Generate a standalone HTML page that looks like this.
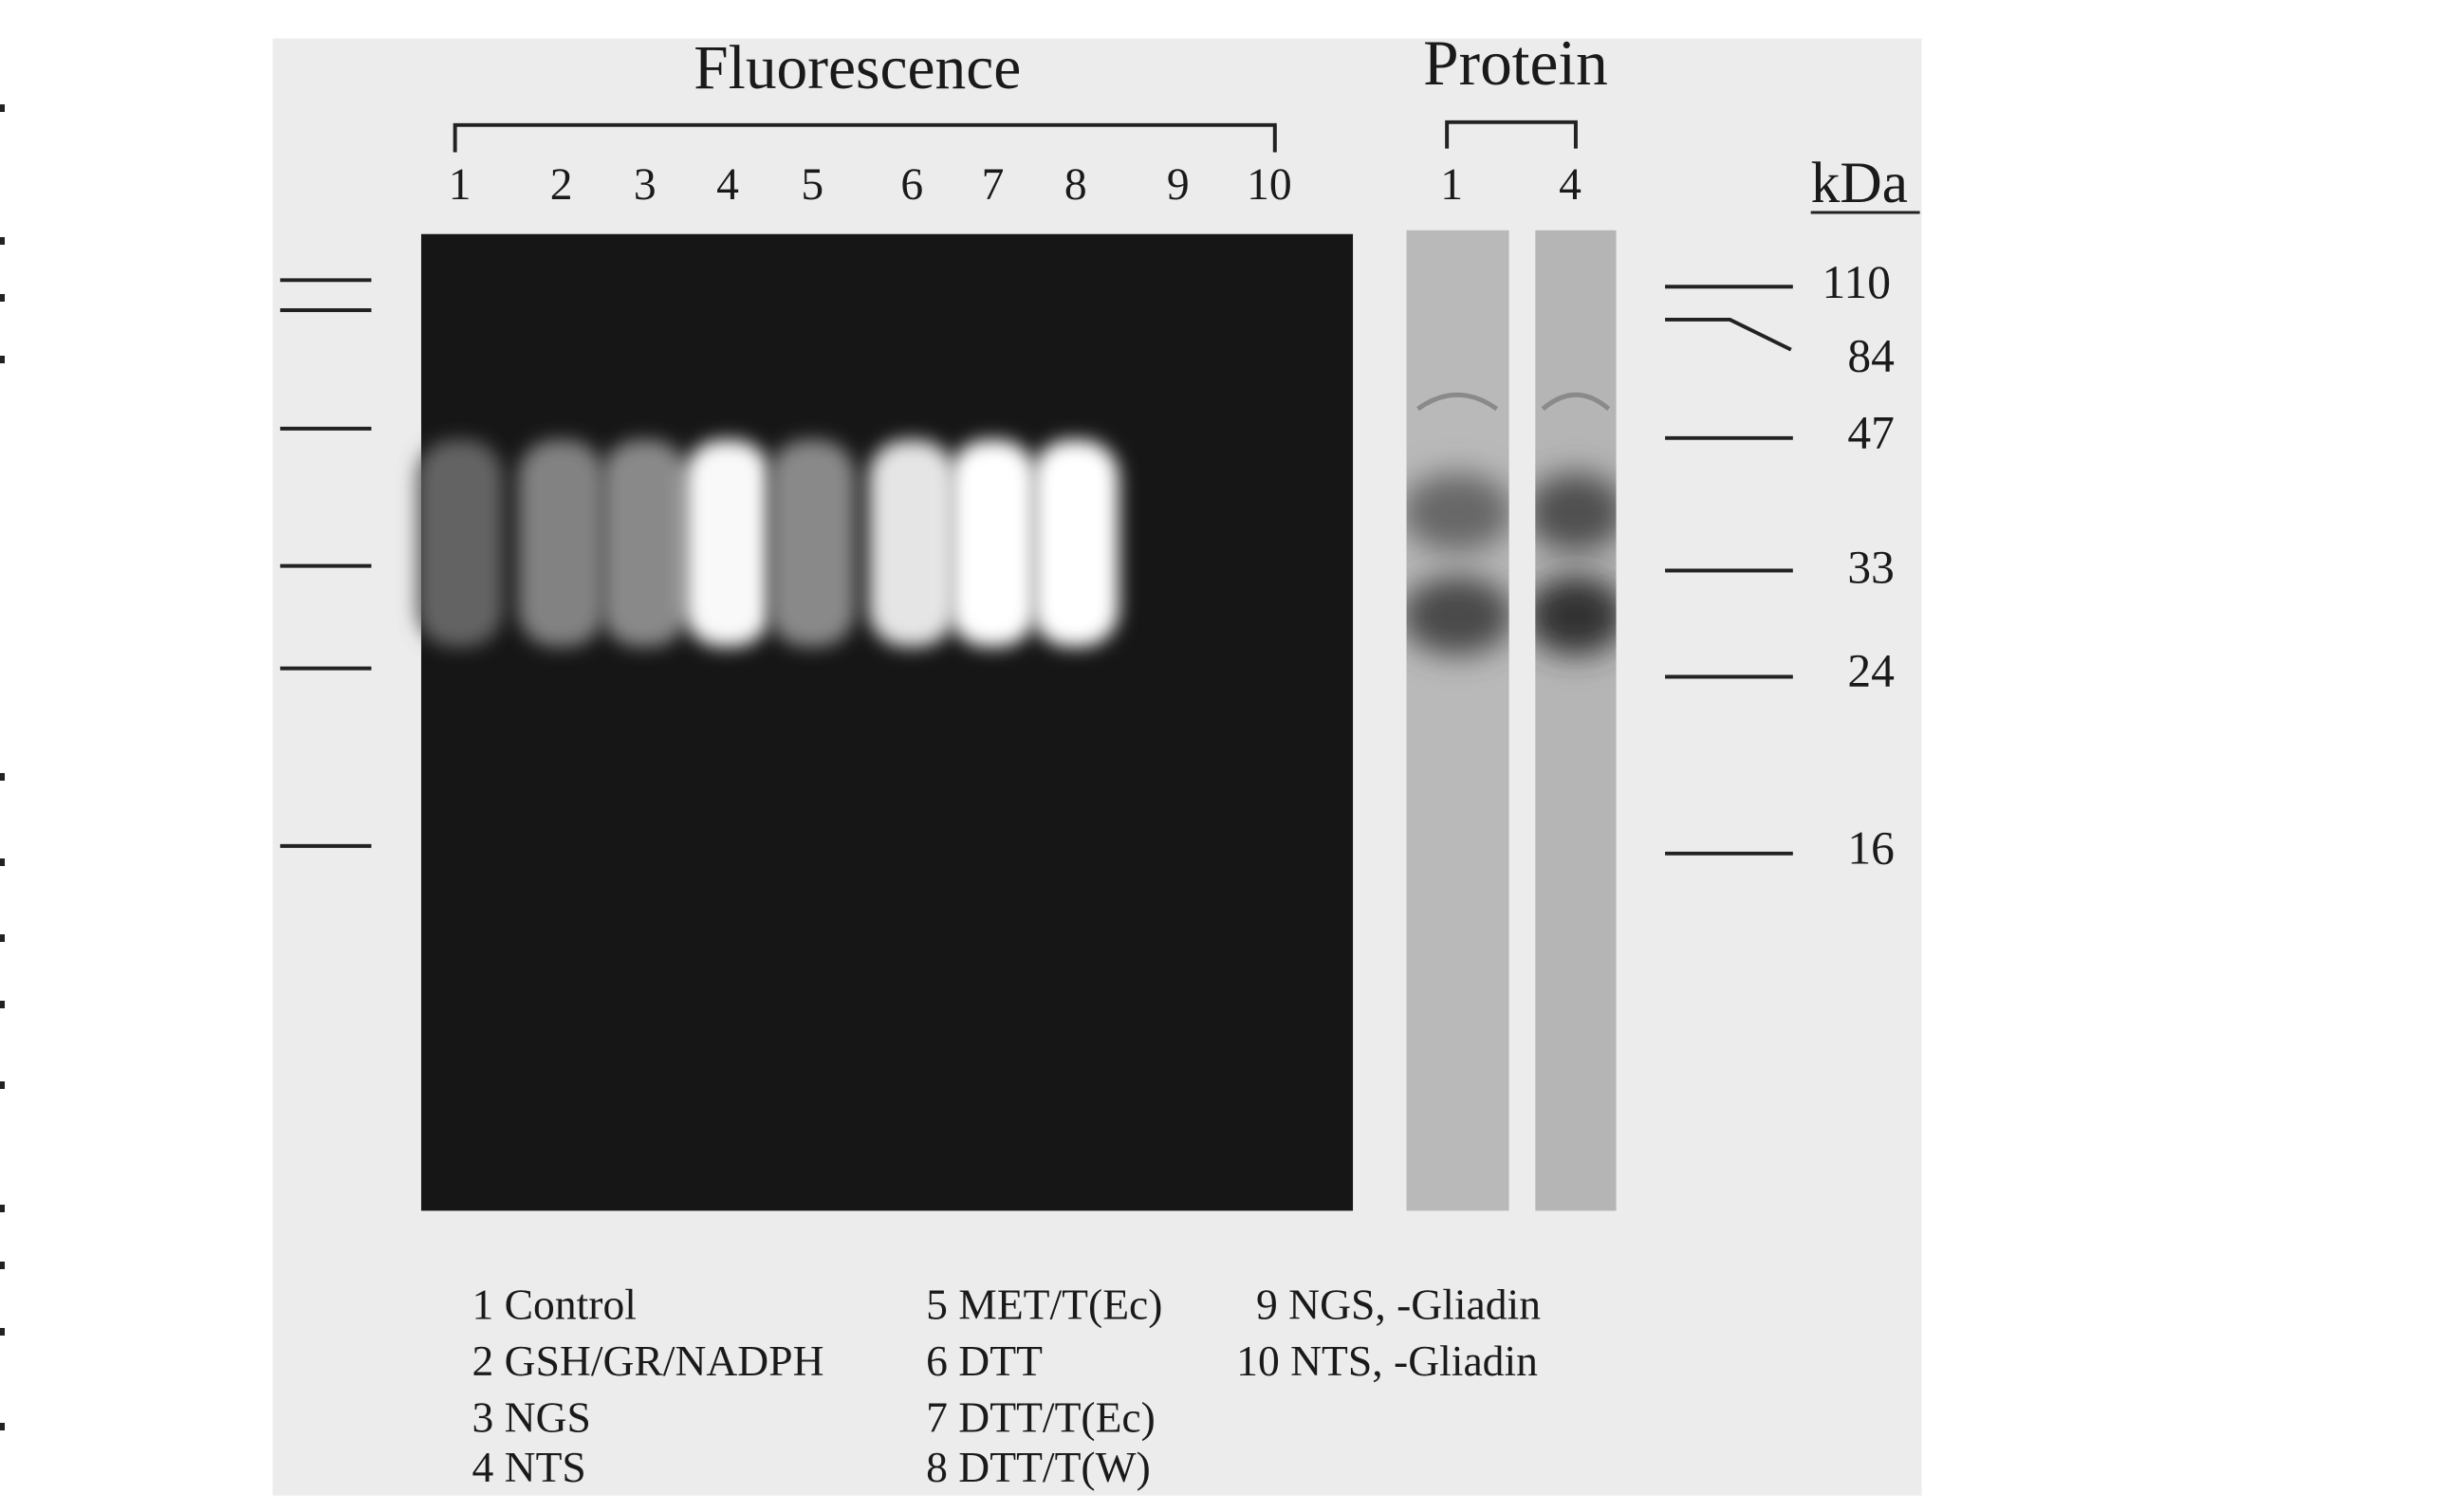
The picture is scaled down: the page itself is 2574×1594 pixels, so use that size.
<!DOCTYPE html>
<html><head><meta charset="utf-8"><style>
html,body{margin:0;padding:0;background:#fff;}
svg{display:block;}
text{font-family:"Liberation Serif",serif;fill:#1a1a1a;}
</style></head><body>
<svg id="fig" width="2574" height="1594" viewBox="0 0 2574 1594" xmlns="http://www.w3.org/2000/svg">
<defs>
<filter id="blurB" x="-50%" y="-50%" width="200%" height="200%"><feGaussianBlur stdDeviation="10"/></filter>
<filter id="blurP" x="-50%" y="-50%" width="200%" height="200%"><feGaussianBlur stdDeviation="16"/></filter>
<clipPath id="clipP1"><rect x="1496" y="245" width="109" height="1043"/></clipPath>
<clipPath id="clipP4"><rect x="1633" y="245" width="86" height="1043"/></clipPath>
</defs>
<g fill="#222">
<rect x="0" y="110" width="5" height="8"/><rect x="0" y="250" width="5" height="8"/><rect x="0" y="310" width="5" height="8"/><rect x="0" y="375" width="5" height="8"/><rect x="0" y="815" width="5" height="8"/><rect x="0" y="905" width="5" height="8"/><rect x="0" y="985" width="5" height="8"/><rect x="0" y="1055" width="5" height="8"/><rect x="0" y="1140" width="5" height="8"/><rect x="0" y="1270" width="5" height="8"/><rect x="0" y="1330" width="5" height="8"/><rect x="0" y="1400" width="5" height="8"/><rect x="0" y="1500" width="5" height="8"/>
</g>
<g transform="scale(0.991)">
<rect x="290" y="41" width="1754" height="1550" fill="#ececec"/>
<rect x="448" y="249" width="991" height="1039" fill="#161616"/>
<g id="bands"></g>
<rect x="1496" y="245" width="109" height="1043" fill="#b9b9b9"/>
<rect x="1633" y="245" width="86" height="1043" fill="#b5b5b5"/>
<g id="pbands"></g>
<text x="912" y="94" font-size="66" text-anchor="middle">Fluorescence</text>
<path d="M484 162 V133 H1356 V162" fill="none" stroke="#222" stroke-width="4"/>
<g id="lanenums"></g>
<text x="1612" y="90" font-size="68" text-anchor="middle">Protein</text>
<path d="M1539 158 V130 H1676 V158" fill="none" stroke="#222" stroke-width="4"/>
<text x="1544" y="212" font-size="48" text-anchor="middle">1</text>
<text x="1670" y="212" font-size="48" text-anchor="middle">4</text>
<text x="1926" y="215" font-size="62">kDa</text>
<line x1="1926" y1="226" x2="2042" y2="226" stroke="#222" stroke-width="3"/>
<g id="markers"></g>
<g font-size="46">
<text x="502" y="1403">1 Control</text>
<text x="502" y="1463">2 GSH/GR/NADPH</text>
<text x="502" y="1523">3 NGS</text>
<text x="502" y="1576">4 NTS</text>
<text x="985" y="1403">5 MET/T(Ec)</text>
<text x="985" y="1463">6 DTT</text>
<text x="985" y="1523">7 DTT/T(Ec)</text>
<text x="985" y="1576">8 DTT/T(W)</text>
<text x="1336" y="1403">9 NGS, -Gliadin</text>
<text x="1315" y="1463">10 NTS, -Gliadin</text>
</g>
</g>
</svg>
<script>
const laneLabels = ["1","2","3","4","5","6","7","8","9","10"];
const laneCenters = [489,597,686,774,864,970,1056,1144,1253,1350];
const laneIntensity = [0.28,0.42,0.45,0.97,0.45,0.88,1.0,1.0,0,0];
const mwLabels = ["110","84","47","33","24","16"];
const mwLeftY = [298,330,456,602,711,900];
const mwRightY = [305,340,466,607,720,908];
const mwLabelY = [300,378,460,603,713,902];
const proteinBandY = [545,655];
const proteinLane1Dark = [0.55,0.75];
const proteinLane4Dark = [0.7,0.9];
const NS="http://www.w3.org/2000/svg";
function mk(t,a,p){const e=document.createElementNS(NS,t);for(const k in a)e.setAttribute(k,a[k]);p.appendChild(e);return e;}
const bands=document.getElementById('bands');
laneCenters.forEach((cx,i)=>{
  const v=laneIntensity[i]; if(v<=0) return;
  const g=Math.round(40+215*v);
  const r=mk('rect',{x:cx-46,y:468,width:92,height:220,rx:40,fill:`rgb(${g},${g},${g})`,filter:'url(#blurB)'},bands);
  
  
});
const nums=document.getElementById('lanenums');
laneCenters.forEach((cx,i)=>{
  const t=mk('text',{x:cx,y:212,'font-size':48,'text-anchor':'middle'},nums);
  t.textContent=laneLabels[i];
  
  
});
const pb=document.getElementById('pbands');
[[1550,100,proteinLane1Dark,'clipP1','1'],[1676,86,proteinLane4Dark,'clipP4','4']].forEach(([cx,w,d,clip,lab])=>{
  const gg=mk('g',{'clip-path':`url(#${clip})`},pb);
  proteinBandY.forEach((y,j)=>{
    const g=Math.round(185-150*d[j]);
    const e=mk('ellipse',{cx:cx,cy:y,rx:w/2+10,ry:42,fill:`rgb(${g},${g},${g})`,filter:'url(#blurP)'},gg);
    
    
  });
  const a=mk('path',{d:`M${cx-w/2+8} 435 Q${cx} 405 ${cx+w/2-8} 435`,fill:'none',stroke:'#8a8a8a','stroke-width':5},gg);
  
  
});
const mg=document.getElementById('markers');
mwLabels.forEach((l,i)=>{
  const a=mk('line',{x1:298,x2:395,y1:mwLeftY[i],y2:mwLeftY[i],stroke:'#222','stroke-width':4},mg);
  
  
  let b;
  if(i===1){b=mk('path',{d:`M1771 ${mwRightY[i]} H1840 L1905 ${mwRightY[i]+32}`,fill:'none',stroke:'#222','stroke-width':4},mg);}
  else{b=mk('line',{x1:1771,x2:1907,y1:mwRightY[i],y2:mwRightY[i],stroke:'#222','stroke-width':4},mg);}
  
  
  const t=mk('text',{x:i===0?1938:1965,y:mwLabelY[i]+17,'font-size':50},mg);
  t.textContent=l;
  
  
});
</script>
</body></html>
